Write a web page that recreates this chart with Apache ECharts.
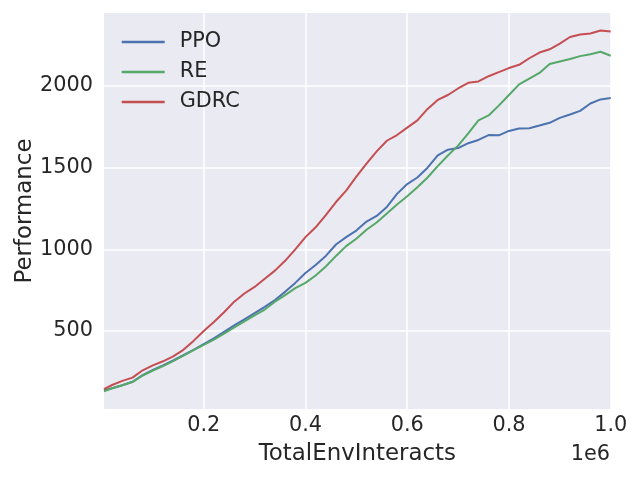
<!DOCTYPE html>
<html>
<head>
<meta charset="utf-8">
<script src="https://cdn.jsdelivr.net/npm/echarts@6/dist/echarts.min.js"></script>
<style>html,body{margin:0;padding:0;background:#fff}#c{width:640px;height:480px}</style>
</head>
<body>
<div id="c"></div>
<script>
// x values: TotalEnvInteracts
const steps = [4000, 20000, 40000, 60000, 80000, 100000, 120000, 140000, 160000, 180000,
  200000, 220000, 240000, 260000, 280000, 300000, 320000, 340000, 360000, 380000,
  400000, 420000, 440000, 460000, 480000, 500000, 520000, 540000, 560000, 580000,
  600000, 620000, 640000, 660000, 680000, 700000, 720000, 740000, 760000, 780000,
  800000, 820000, 840000, 860000, 880000, 900000, 920000, 940000, 960000, 980000, 1000000];

const ppo = [136, 150, 168, 190, 230, 262, 290, 320, 352, 385,
  420, 455, 495, 535, 572, 610, 648, 690, 740, 795,
  855, 905, 960, 1030, 1075, 1115, 1170, 1205, 1260, 1340,
  1400, 1440, 1500, 1575, 1610, 1620, 1650, 1670, 1700, 1698,
  1725, 1740, 1742, 1758, 1775, 1805, 1826, 1848, 1893, 1918, 1926];

const re = [132, 150, 168, 188, 228, 258, 286, 316, 350, 383,
  416, 448, 485, 522, 560, 596, 632, 680, 720, 763,
  795, 840, 895, 960, 1020, 1065, 1120, 1165, 1220, 1275,
  1325, 1380, 1440, 1510, 1575, 1635, 1710, 1790, 1820, 1880,
  1945, 2010, 2045, 2080, 2135, 2150, 2165, 2183, 2195, 2210, 2185];

const gdrc = [145, 170, 195, 215, 260, 290, 315, 345, 385, 440,
  500, 555, 615, 680, 730, 770, 820, 870, 930, 1000,
  1075, 1135, 1210, 1290, 1360, 1445, 1525, 1600, 1665, 1700,
  1745, 1790, 1860, 1915, 1945, 1985, 2020, 2028, 2060, 2085,
  2110, 2130, 2170, 2205, 2225, 2260, 2300, 2315, 2322, 2340, 2334];

const seriesNames = ['PPO', 'RE', 'GDRC'];
const seriesValues = [ppo, re, gdrc];
const colors = ['#4C72B0', '#55A868', '#C44E52'];

const FONT = 'DejaVu Sans';
const TXT = '#262626';

const chart = echarts.init(document.getElementById('c'), null, {renderer: 'canvas'});
chart.setOption({
  animation: false,
  backgroundColor: '#ffffff',
  grid: {left: 104, right: 29.3, top: 13, bottom: 71, show: true, backgroundColor: '#EAEAF2', borderWidth: 0,
    containLabel: false, outerBoundsMode: 'none'},
  legend: {
    left: 116.7, top: 26.5, orient: 'vertical',
    icon: 'rect', itemWidth: 43, itemHeight: 2.5, itemGap: 9,
    textStyle: {fontFamily: FONT, fontSize: 20.8, color: TXT, padding: [0, 0, 0, 10]},
    data: seriesNames
  },
  xAxis: {
    type: 'value', min: 4000, max: 1000000, splitNumber: 5,
    name: 'TotalEnvInteracts', nameLocation: 'middle', nameGap: 34, nameMoveOverlap: false,
    nameTextStyle: {fontFamily: FONT, fontSize: 22.9, color: TXT},
    axisLine: {show: false}, axisTick: {show: false},
    axisLabel: {fontFamily: FONT, fontSize: 20.8, color: TXT, margin: 6, showMinLabel: false,
      formatter: v => (v / 1e6).toFixed(1)},
    splitLine: {show: true, showMinLine: false, lineStyle: {color: '#ffffff', width: 1.5}}
  },
  yAxis: {
    type: 'value', min: 23, max: 2447, splitNumber: 5,
    name: 'Performance', nameLocation: 'middle', nameGap: 67, nameRotate: 90, nameMoveOverlap: false,
    nameTextStyle: {fontFamily: FONT, fontSize: 22.9, color: TXT},
    axisLine: {show: false}, axisTick: {show: false},
    axisLabel: {fontFamily: FONT, fontSize: 20.8, color: TXT, margin: 11, showMinLabel: false, showMaxLabel: false,
      formatter: v => String(Math.round(v))},
    splitLine: {show: true, showMinLine: false, showMaxLine: false, lineStyle: {color: '#ffffff', width: 1.5}}
  },
  graphic: [{
    type: 'text', right: 30, top: 444,
    style: {text: '1e6', fontFamily: FONT, fontSize: 20.8, fill: TXT}
  }],
  series: seriesNames.map((n, i) => ({
    name: n, type: 'line', showSymbol: false, symbol: 'none',
    data: steps.map((s, j) => [s, seriesValues[i][j]]),
    lineStyle: {color: colors[i], width: 2},
    itemStyle: {color: colors[i]}
  }))
});
</script>
</body>
</html>
